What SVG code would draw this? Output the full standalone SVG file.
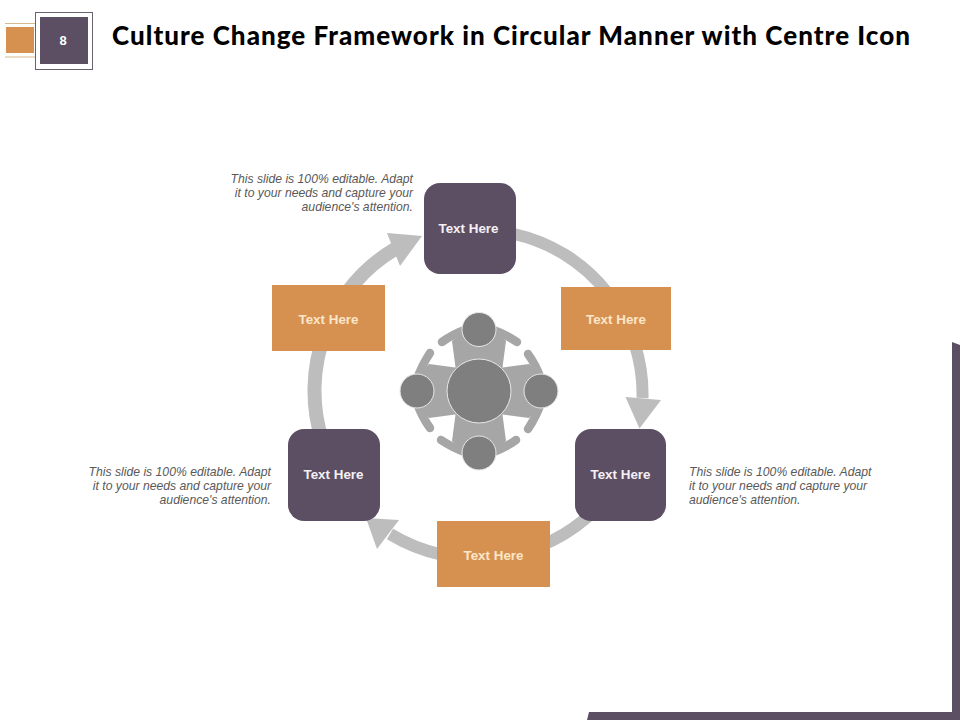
<svg xmlns="http://www.w3.org/2000/svg" width="960" height="720" viewBox="0 0 960 720">
<style>
.purple{fill:#5c4f63}
.orange{fill:#d69150}
.shaft{fill:none;stroke:#bdbdbd;stroke-width:12}
.head{fill:#bdbdbd}
.lbl{font-family:"Liberation Sans",Arial,sans-serif;font-size:13.4px;font-weight:bold;text-anchor:middle}
.note{font-family:"Liberation Sans",Arial,sans-serif;font-size:12.2px;font-style:italic;fill:#595959}
.body{fill:#a6a6a6}
.arm{fill:none;stroke:#a6a6a6;stroke-width:8.5;stroke-linecap:round}
.disc{fill:#7f7f7f;stroke:#e8e8e8;stroke-width:1}
</style>
<defs>
<g id="person">
<path class="body" d="M-23,-20 L-27,-50 L-14,-62 L14,-62 L27,-50 L23,-20 Z"/>
<path class="arm" d="M-37,-49 Q-26,-57 -12,-62"/>
<path class="arm" d="M38,-49 Q26,-57 12,-62"/>
</g>
</defs>
<rect width="960" height="720" fill="#ffffff"/>
<g id="frame">
<polygon class="purple" points="952,342 960,345 960,720 587,720 589,712 952,712"/>
</g>
<g id="header">
<path d="M5,23.500H36M5,57H36" stroke="#d9b88f" stroke-width="1" fill="none"/>
<rect class="orange" x="6" y="27" width="28" height="26"/>
<rect x="35.500" y="12.500" width="57" height="57" fill="#ffffff" stroke="#6b6070" stroke-width="1"/>
<rect class="purple" x="40" y="17" width="48" height="47"/>
<text x="63" y="45" font-family="Liberation Sans,Arial,sans-serif" font-size="13" font-weight="bold" fill="#ffffff" text-anchor="middle">8</text>
<text x="112" y="45" font-family="Lato,'Liberation Sans',sans-serif" font-size="26" font-weight="900" fill="#000000" textLength="798" lengthAdjust="spacing">Culture Change Framework in Circular Manner with Centre Icon</text>
</g>
<g id="connectors">
<path class="shaft" d="M514,234 A164,164 0 0 1 642.500,398"/>
<polygon class="head" points="625.500,397 661,400 639.500,428.500"/>
<path class="shaft" d="M597,508 A168,168 0 0 1 390,534"/>
<polygon class="head" points="366,518 399,520 377,549"/>
<path class="shaft" style="stroke-width:14" d="M322,440 A165,165 0 0 1 395,249"/>
<polygon class="head" points="422,236 387,233 400,266"/>
</g>
<g id="centre-icon">
<use href="#person" transform="translate(479,391)"/>
<use href="#person" transform="translate(479,391) rotate(90)"/>
<use href="#person" transform="translate(479,391) rotate(180)"/>
<use href="#person" transform="translate(479,391) rotate(270)"/>
<circle class="disc" cx="479" cy="391" r="32"/>
<circle class="disc" cx="479" cy="329.500" r="17"/>
<circle class="disc" cx="541" cy="391" r="17"/>
<circle class="disc" cx="479" cy="453" r="17"/>
<circle class="disc" cx="417" cy="391" r="17"/>
</g>
<g id="node-top">
<rect class="purple" x="424" y="183" width="92" height="91" rx="16"/>
<text class="lbl" x="468.500" y="233" fill="#f5f0f5">Text Here</text>
</g>
<g id="node-right-orange">
<rect class="orange" x="561" y="287" width="110" height="63"/>
<text class="lbl" x="616" y="324" fill="#fbe6c8">Text Here</text>
</g>
<g id="node-right-purple">
<rect class="purple" x="575" y="429" width="91" height="92" rx="16"/>
<text class="lbl" x="620.500" y="479" fill="#f5f0f5">Text Here</text>
</g>
<g id="node-bottom-orange">
<rect class="orange" x="437" y="521" width="113" height="66"/>
<text class="lbl" x="493.500" y="560" fill="#fbe6c8">Text Here</text>
</g>
<g id="node-left-purple">
<rect class="purple" x="288" y="429" width="92" height="92" rx="16"/>
<text class="lbl" x="333.500" y="479" fill="#f5f0f5">Text Here</text>
</g>
<g id="node-left-orange">
<rect class="orange" x="272" y="285" width="113" height="66"/>
<text class="lbl" x="328.500" y="324" fill="#fbe6c8">Text Here</text>
</g>
<g id="note-top">
<text class="note" text-anchor="end" x="413" y="183">This slide is 100% editable. Adapt</text>
<text class="note" text-anchor="end" x="413" y="197">it to your needs and capture your</text>
<text class="note" text-anchor="end" x="413" y="211">audience's attention.</text>
</g>
<g id="note-left">
<text class="note" text-anchor="end" x="271" y="476">This slide is 100% editable. Adapt</text>
<text class="note" text-anchor="end" x="271" y="490">it to your needs and capture your</text>
<text class="note" text-anchor="end" x="271" y="504">audience's attention.</text>
</g>
<g id="note-right">
<text class="note" x="689" y="476">This slide is 100% editable. Adapt</text>
<text class="note" x="689" y="490">it to your needs and capture your</text>
<text class="note" x="689" y="504">audience's attention.</text>
</g>
</svg>
